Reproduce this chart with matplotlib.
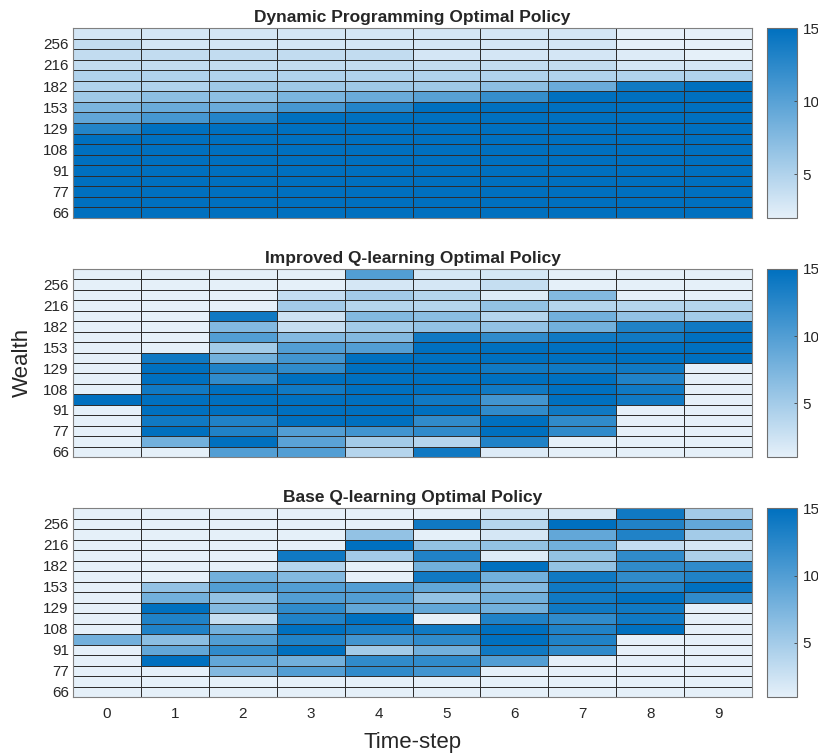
import numpy as np
import matplotlib
matplotlib.use("Agg")
from matplotlib import pyplot as plt
from matplotlib.colors import LinearSegmentedColormap

plt.rcParams["font.family"] = ["Liberation Sans", "DejaVu Sans"]

# eje x: pasos de tiempo; eje y: 18 niveles de riqueza (solo se ven uno de cada dos)
time_steps = [0, 1, 2, 3, 4, 5, 6, 7, 8, 9]
wealth_labels = [256, 216, 182, 153, 129, 108, 91, 77, 66]  # de arriba a abajo
n_rows = 18

# filas de arriba (mayor riqueza) a abajo (66)
dp_policy = [
    [3, 3, 3, 3, 3, 3, 3, 3, 2, 2],
    [4, 3, 3, 3, 3, 3, 3, 3, 2, 2],
    [4, 4, 4, 4, 4, 3, 3, 3, 2.5, 2],
    [4, 4, 4, 4, 4, 4, 4, 4, 3, 3],
    [5, 5, 5, 5, 5, 5, 5, 5, 5, 5],
    [5, 5, 6, 6, 6, 6, 7, 9, 14, 15],
    [6, 7, 7, 8, 9, 10, 12, 15, 15, 15],
    [8, 9, 9, 11, 13, 15, 15, 15, 15, 15],
    [9.5, 11, 13, 15, 15, 15, 15, 15, 15, 15],
    [13, 15, 15, 15, 15, 15, 15, 15, 15, 15],
    [15, 15, 15, 15, 15, 15, 15, 15, 15, 15],
    [15, 15, 15, 15, 15, 15, 15, 15, 15, 15],
    [15, 15, 15, 15, 15, 15, 15, 15, 15, 15],
    [15, 15, 15, 15, 15, 15, 15, 15, 15, 15],
    [15, 15, 15, 15, 15, 15, 15, 15, 15, 15],
    [15, 15, 15, 15, 15, 15, 15, 15, 15, 15],
    [15, 15, 15, 15, 15, 15, 15, 15, 15, 15],
    [15, 15, 15, 15, 15, 15, 15, 15, 15, 15],
]

improved_q_policy = [
    [1, 1, 1, 1, 10, 2, 2, 1, 1, 1],
    [1, 1, 1, 1, 2, 2, 3, 1, 1, 1],
    [1, 1, 1, 3, 5, 4, 1.5, 7, 1, 1],
    [1, 1, 1, 5, 4, 4, 6, 4, 4, 4],
    [1, 1, 14, 2.5, 7, 6.5, 4, 8, 6, 5],
    [1, 1, 7, 3, 5, 6, 6, 8, 13, 14],
    [1, 1, 10, 7, 7, 14, 12, 14, 14, 15],
    [1, 1, 5, 10, 10, 15, 15, 15, 15, 15],
    [1, 14, 8, 11, 15, 15, 15, 15, 15, 15],
    [1, 15, 13, 12, 15, 15, 14, 14, 14, 1],
    [1, 15, 12, 15, 15, 15, 15, 15, 13, 1],
    [1, 14, 15, 14, 15, 15, 14, 15, 14, 1],
    [15, 15, 15, 15, 15, 14, 11, 15, 14, 1],
    [1, 15, 15, 15, 15, 15, 12, 14, 1, 1],
    [1, 14, 13, 15, 15, 12, 15, 12, 1, 1],
    [1, 15, 13, 10, 11, 12, 15, 12, 1, 1],
    [1, 8, 15, 9.5, 5, 4, 13, 1, 1, 1],
    [1, 1, 10, 10, 4, 14, 1.5, 1, 1, 1],
]

base_q_policy = [
    [1, 1, 1, 1, 1, 1, 2, 2, 14, 5],
    [1, 1, 1, 1, 1, 14, 4, 15, 13, 9],
    [1, 1, 1, 1, 6, 1, 2, 9, 13, 5],
    [1, 1, 1, 1, 15, 6, 6, 8, 3, 2],
    [1, 1, 1, 14, 5, 13, 1.5, 6, 12, 4.5],
    [1, 1, 1, 4, 1, 8, 15, 6, 12, 12],
    [1, 1, 8, 7, 1, 14, 8, 14, 12, 13],
    [1, 6, 10, 10, 10, 9, 7, 14, 13, 15],
    [1, 8, 6, 10, 10, 6, 8, 14, 15, 12],
    [1, 15, 7, 12, 9, 9, 8, 14, 14, 1],
    [1, 13, 3, 13, 15, 1, 13, 12, 14, 1],
    [1, 13, 8, 15, 14, 14, 15, 13, 15, 1],
    [8, 6.5, 10, 13, 11, 12, 15, 13, 1, 1],
    [1, 9, 12, 15, 5, 8, 14, 12, 1, 1],
    [1, 15, 9, 8, 12, 12, 10, 1, 1, 1],
    [1, 1, 7, 10, 12, 11, 1, 1, 1, 1],
    [1, 1, 1, 1, 1, 1, 1, 1, 1, 1],
    [1, 1, 1, 1, 1, 1, 1, 1, 1, 1],
]

blues = LinearSegmentedColormap.from_list("azules", ["#e5f0f9", "#0070bf"])


def dibujar_panel(fig, rect, cbar_rect, data, titulo, vmin, mostrar_x):
    ax = fig.add_axes(rect)
    cax = fig.add_axes(cbar_rect)
    malla = ax.pcolormesh(
        np.array(data, dtype=float),
        cmap=blues,
        vmin=vmin,
        vmax=15,
        edgecolors="#2e2e2e",
        linewidth=0.7
    )
    ax.set_xlim(0, len(time_steps))
    ax.set_ylim(0, n_rows)
    ax.invert_yaxis()
    ax.set_yticks(np.arange(1, n_rows, 2) + 0.5)
    ax.set_yticklabels([str(w) for w in wealth_labels])
    ax.set_xticks(np.arange(len(time_steps)) + 0.5)
    if mostrar_x:
        ax.set_xticklabels([str(t) for t in time_steps])
    else:
        ax.set_xticklabels([])
    ax.tick_params(axis="both", length=0, labelsize=11, colors="#262626")
    ax.tick_params(axis="y", pad=3)
    ax.tick_params(axis="x", pad=7)
    for s in ax.spines.values():
        s.set_color("#808080")
        s.set_linewidth(0.8)
    ax.set_title(titulo, fontsize=12.5, fontweight="bold", color="#262626", pad=4)

    cb = fig.colorbar(malla, cax=cax, ticks=[5, 10, 15])
    cb.outline.set_edgecolor("#6e6e6e")
    cb.outline.set_linewidth(0.8)
    cax.tick_params(direction="in", length=2.5, width=0.6, color="#404040",
                    labelsize=11, labelcolor="#262626", pad=4)
    return ax


def main():
    fig = plt.figure(figsize=(8.18, 7.55), dpi=100)
    izq, ancho = 73 / 818, 679 / 818
    cb_izq, cb_ancho = 767 / 818, 30 / 818
    paneles = [
        (28, 218, dp_policy, "Dynamic Programming Optimal Policy", 2, False),
        (269, 457, improved_q_policy, "Improved Q-learning Optimal Policy", 1, False),
        (508, 697, base_q_policy, "Base Q-learning Optimal Policy", 1, True),
    ]
    for arriba, abajo, datos, titulo, vmin, mostrar_x in paneles:
        y0 = 1 - abajo / 755
        alto = (abajo - arriba) / 755
        dibujar_panel(fig, [izq, y0, ancho, alto], [cb_izq, y0, cb_ancho, alto],
                      datos, titulo, vmin, mostrar_x)
    fig.text(0.027, 0.52, "Wealth", rotation=90, fontsize=16, color="#262626",
             ha="center", va="center")
    fig.text(0.504, 0.016, "Time-step", fontsize=16, color="#262626",
             ha="center", va="center")
    fig.savefig("out.png", dpi=100)


if __name__ == "__main__":
    main()
